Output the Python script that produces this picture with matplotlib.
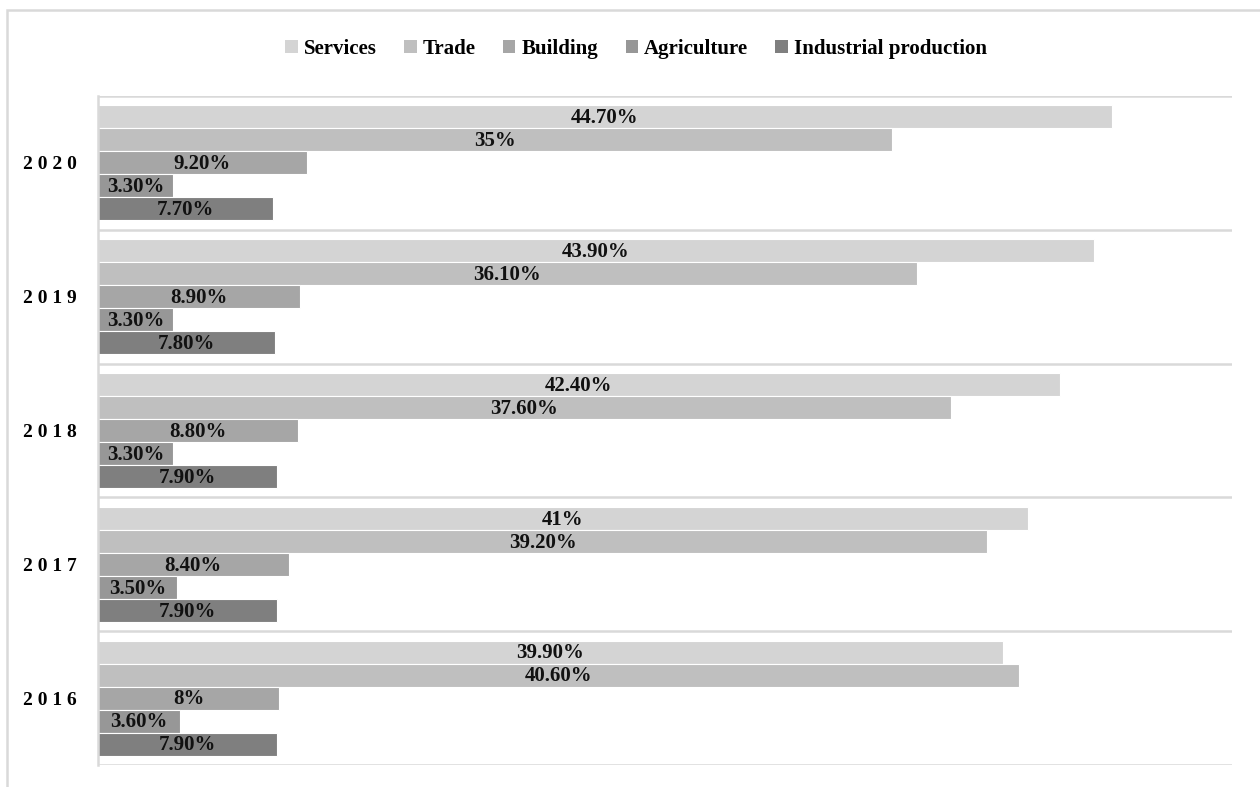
import numpy as np
import matplotlib.pyplot as plt
from matplotlib.patches import Rectangle

years = ["2020", "2019", "2018", "2017", "2016"]
series = ["Services", "Trade", "Building", "Agriculture", "Industrial production"]
services = [44.7, 43.9, 42.4, 41.0, 39.9]
trade = [35.0, 36.1, 37.6, 39.2, 40.6]
building = [9.2, 8.9, 8.8, 8.4, 8.0]
agriculture = [3.3, 3.3, 3.3, 3.5, 3.6]
industrial = [7.7, 7.8, 7.9, 7.9, 7.9]
labels = [
    ["44.70%", "43.90%", "42.40%", "41%", "39.90%"],
    ["35%", "36.10%", "37.60%", "39.20%", "40.60%"],
    ["9.20%", "8.90%", "8.80%", "8.40%", "8%"],
    ["3.30%", "3.30%", "3.30%", "3.50%", "3.60%"],
    ["7.70%", "7.80%", "7.90%", "7.90%", "7.90%"],
]
colors = ["#d4d4d4", "#bfbfbf", "#a6a6a6", "#979797", "#7f7f7f"]

plt.rcParams["font.family"] = ["Liberation Serif", "DejaVu Serif"]
plt.rcParams["font.weight"] = "bold"

fig = plt.figure(figsize=(12.6, 7.87), dpi=100)
ax = fig.add_axes([0.0778, 0.028, 0.9, 0.85])

values = [services, trade, building, agriculture, industrial]
bar_h = 0.172
y = np.arange(len(years))
for i, (name, vals, col) in enumerate(zip(series, values, colors)):
    pos = y - 2 * bar_h + i * bar_h
    bars = ax.barh(pos, vals, height=bar_h, color=col, edgecolor="white",
                   linewidth=0.8, label=name)
    for b, txt in zip(bars, labels[i]):
        ax.text(b.get_width() / 2, b.get_y() + b.get_height() / 2 + 0.01, txt,
                ha="center", va="center", fontsize=15, fontweight="bold",
                color="#111111")

ax.set_xlim(0, 50)
ax.set_ylim(len(years) - 0.5, -0.5)
ax.set_xticks([])
ax.set_yticks(y)
ax.set_yticklabels([" ".join(yr) for yr in years], fontsize=14, fontweight="bold")
ax.tick_params(axis="y", length=0, pad=15)

# separators between year groups
for b in np.arange(-0.5, len(years), 1.0):
    ax.axhline(b, color="#d9d9d9", linewidth=1.8, zorder=0)

for side in ["top", "right", "bottom"]:
    ax.spines[side].set_visible(False)
ax.spines["left"].set_color("#d9d9d9")
ax.spines["left"].set_linewidth(1.8)

leg = fig.legend(loc="center", bbox_to_anchor=(0.505, 0.938), ncol=5, frameon=False,
                 fontsize=15, handlelength=0.6, handleheight=0.6, handletextpad=0.3,
                 columnspacing=1.3)
for h in leg.legend_handles:
    h.set_edgecolor("none")

# outer chart frame
fig.patches.append(Rectangle((7 / 1260, -0.1), 1.2, 0.1 + 1 - 10 / 787,
                             transform=fig.transFigure, fill=False,
                             edgecolor="#d9d9d9", linewidth=1.8, zorder=0))

fig.savefig("out.png", dpi=100)
